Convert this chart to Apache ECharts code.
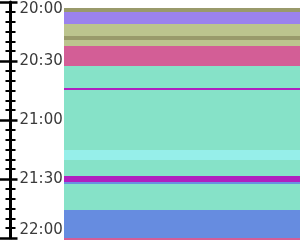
<!DOCTYPE html>
<html>
<head>
<meta charset="utf-8">
<script src="https://cdn.jsdelivr.net/npm/echarts@6/dist/echarts.min.js"></script>
<style>html,body{margin:0;padding:0;background:#fff}#c{width:300px;height:240px}</style>
</head>
<body>
<div id="c"></div>
<script>
// minutes after 20:00
const tickLabels = ["20:00", "20:30", "21:00", "21:30", "22:00"];
const segStart = [3.05, 5.1, 11.2, 17.3, 19.3, 22.4, 32.5, 43.7, 75.25, 80.35, 88.5, 91.5, 92.5, 105.75, 120];
const segEnd   = [5.1, 11.2, 17.3, 19.3, 22.4, 32.5, 120, 44.75, 80.35, 88.5, 91.5, 92.5, 105.75, 120, 121.1];
const segColor = ["#999a6b", "#9b82ee", "#bcc48e", "#999a6b", "#bcc48e", "#d35e96", "#86e2c8", "#b01fbf", "#96efea", "#86e2c8", "#b01fbf", "#6a90e0", "#86e2c8", "#668ce0", "#d35e96"];

const data = segStart.map((s, i) => [s, segEnd[i], i]);
const chart = echarts.init(document.getElementById('c'), null, {renderer: 'canvas'});

function yAx(offset, line, majLen, minLen, showLabel) {
  return {
    type: 'value', inverse: true, min: 0, max: 120, interval: 30,
    position: 'left', offset: offset,
    axisLine: {show: line, onZero: false, lineStyle: {color: '#000', width: 3}},
    axisTick: {show: majLen > 0, inside: false, length: majLen, lineStyle: {color: '#000', width: 2.5}},
    minorTick: {show: minLen > 0, splitNumber: 6, length: minLen, lineStyle: {color: '#000', width: 2}},
    splitLine: {show: false},
    axisLabel: {
      show: showLabel, inside: true, margin: 9,
      color: '#3a3a3a', fontSize: 15, fontFamily: 'DejaVu Sans',
      verticalAlignMinLabel: 'top', verticalAlignMaxLabel: 'bottom',
      formatter: v => tickLabels[Math.round(v / 30)]
    }
  };
}

chart.setOption({
  animation: false,
  grid: {left: 64, right: 0, top: 2, bottom: 2},
  xAxis: {type: 'value', min: 0, max: 1, show: false, axisLine: {onZero: false}},
  yAxis: [
    yAx(53.5, true, 10.5, 5, true),
    yAx(46.5, false, 7, 0, false),
    yAx(48.5, false, 0, 5, false)
  ],
  series: [{
    type: 'custom',
    clip: false,
    data: data,
    encode: {y: [0, 1]},
    renderItem: function (params, api) {
      const p0 = api.coord([0, api.value(0)]);
      const p1 = api.coord([1, api.value(1)]);
      return {
        type: 'rect',
        shape: {x: p0[0], y: p0[1], width: p1[0] - p0[0], height: p1[1] - p0[1]},
        style: {fill: segColor[api.value(2)]}
      };
    }
  }]
});
</script>
</body>
</html>
